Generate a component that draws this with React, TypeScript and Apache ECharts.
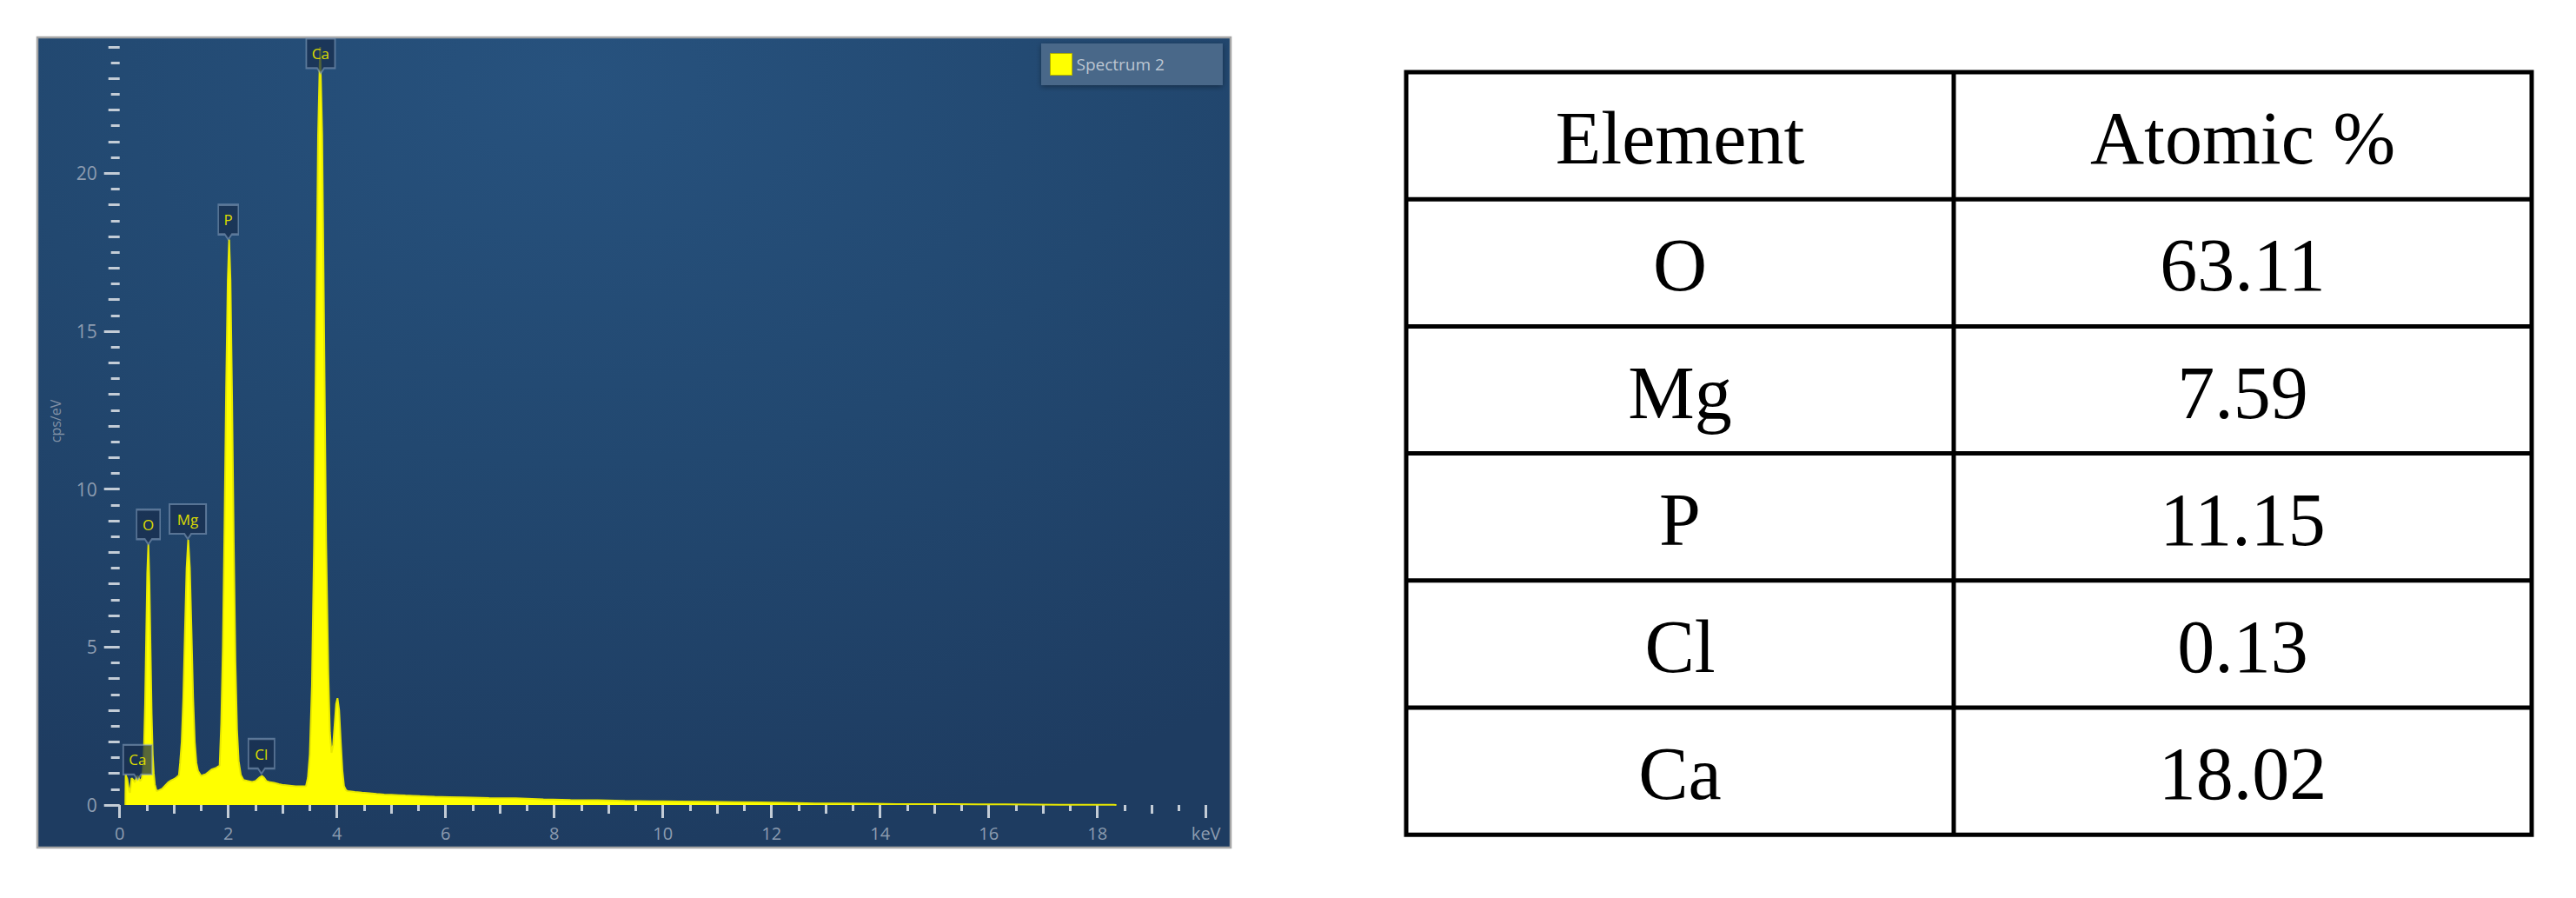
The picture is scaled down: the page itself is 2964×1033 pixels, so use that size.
import React, { useEffect, useRef } from 'react';
import * as echarts from 'echarts';

// ---------- data ----------
// EDS spectrum: [energy keV, counts cps/eV]
const spectrumPoints: [number, number][] = [
  [0.105, 0], [0.11, 0.95], [0.14, 0.82], [0.17, 0.48], [0.19, 0.39], [0.22, 0.85],
  [0.25, 0.8], [0.28, 0.72], [0.31, 0.86], [0.33, 0.92], [0.36, 0.82], [0.38, 0.76],
  [0.408, 0.85], [0.428, 1.1], [0.448, 1.8], [0.468, 3.2], [0.488, 5.3], [0.508, 7.35],
  [0.528, 8.25], [0.548, 7.0], [0.568, 4.95], [0.588, 2.9], [0.608, 1.6], [0.628, 1.0],
  [0.648, 0.65], [0.68, 0.44], [0.73, 0.47], [0.78, 0.51], [0.84, 0.62], [0.89, 0.71],
  [0.95, 0.78], [1.0, 0.82], [1.05, 0.88], [1.09, 0.94], [1.112, 1.33], [1.142, 2.0],
  [1.172, 3.4], [1.202, 5.5], [1.232, 7.5], [1.262, 8.4], [1.292, 7.5], [1.322, 5.5],
  [1.352, 3.4], [1.382, 2.0], [1.412, 1.33], [1.442, 1.08], [1.5, 0.92], [1.54, 0.95],
  [1.58, 0.97], [1.64, 1.05], [1.69, 1.12], [1.77, 1.17], [1.84, 1.25], [1.87, 2.6],
  [1.9, 5.0], [1.93, 8.8], [1.96, 13.2], [1.99, 16.6], [2.015, 17.9], [2.04, 16.6],
  [2.07, 12.8], [2.1, 8.3], [2.13, 4.6], [2.16, 2.4], [2.19, 1.4], [2.23, 0.95],
  [2.28, 0.79], [2.36, 0.76], [2.44, 0.73], [2.5, 0.76], [2.54, 0.82], [2.58, 0.88],
  [2.62, 0.92], [2.66, 0.86], [2.7, 0.76], [2.77, 0.72], [2.84, 0.7], [2.93, 0.66],
  [3.02, 0.63], [3.13, 0.61], [3.24, 0.59], [3.35, 0.59], [3.43, 0.6], [3.465, 0.86],
  [3.5, 1.6], [3.54, 3.8], [3.578, 8.2], [3.615, 14.8], [3.653, 21.2], [3.69, 24.0],
  [3.728, 21.2], [3.765, 14.8], [3.8, 8.4], [3.84, 4.2], [3.87, 2.3], [3.9, 1.65],
  [3.93, 1.9], [3.96, 2.6], [3.985, 3.2], [4.01, 3.38], [4.04, 3.0], [4.07, 2.0],
  [4.1, 1.1], [4.13, 0.6], [4.17, 0.46], [4.2, 0.44], [4.33, 0.41], [4.46, 0.39],
  [4.6, 0.37], [4.73, 0.35], [4.87, 0.33], [5.0, 0.32], [5.13, 0.31], [5.26, 0.3],
  [5.4, 0.29], [5.53, 0.28], [5.67, 0.27], [5.8, 0.26], [6.07, 0.25], [6.33, 0.24],
  [6.8, 0.22], [7.29, 0.21], [7.8, 0.18], [8.3, 0.16], [8.8, 0.15], [9.3, 0.13],
  [9.8, 0.12], [10.3, 0.11], [10.8, 0.1], [11.3, 0.09], [11.8, 0.08], [12.3, 0.07],
  [12.8, 0.05], [13.3, 0.045], [13.8, 0.04], [14.3, 0.03], [14.8, 0.03], [15.3, 0.025],
  [15.8, 0.02], [16.3, 0.02], [16.8, 0.015], [17.3, 0.01], [17.8, 0.01], [18.3, 0.01],
  [18.35, 0],
];

const seriesName = 'Spectrum 2';

// peak markers
const peakNames = ['Ca', 'O', 'Mg', 'P', 'Cl', 'Ca'];
const peakEnergy = [0.33, 0.528, 1.254, 2.0, 2.61, 3.7];
const peakTipCps = [0.8, 8.25, 8.42, 17.9, 0.99, 23.16];

// axis ticks
const xMajorTicks = [0, 2, 4, 6, 8, 10, 12, 14, 16, 18, 20];
const xOddTicks = [1, 3, 5, 7, 9, 11, 13, 15, 17, 19];
const xHalfTicks = [0.5, 1.5, 2.5, 3.5, 4.5, 5.5, 6.5, 7.5, 8.5, 9.5, 10.5, 11.5, 12.5, 13.5, 14.5, 15.5, 16.5, 17.5, 18.5, 19.5];
const yMajorTicks = [0, 5, 10, 15, 20];
const yIntTicks = [1, 2, 3, 4, 6, 7, 8, 9, 11, 12, 13, 14, 16, 17, 18, 19, 21, 22, 23, 24];
const yHalfTicks = [0.5, 1.5, 2.5, 3.5, 4.5, 5.5, 6.5, 7.5, 8.5, 9.5, 10.5, 11.5, 12.5, 13.5, 14.5, 15.5, 16.5, 17.5, 18.5, 19.5, 20.5, 21.5, 22.5, 23.5];
const xUnitLabel = 'keV';
const yAxisName = 'cps/eV';

// table
const tableHeaders = ['Element', 'Atomic %'];
const tableElements = ['O', 'Mg', 'P', 'Cl', 'Ca'];
const tableAtomicPct = ['63.11', '7.59', '11.15', '0.13', '18.02'];

// ---------- layout / style ----------
const W = 2964;
const H = 1033;
const X0 = 137.7; // px of 0 keV
const X_MAX = 20;
const PX_PER_KEV = 62.5;
const Y_MAX = 24.3;
const GRID_TOP = 43;
const GRID_BOTTOM = 107;

const boxWidth: Record<string, number> = { Ca: 33, O: 27, Mg: 42, P: 23, Cl: 30 };
const BOX_H = 34;
const PIN_H = 6;
const pinPath = (w: number, h: number) =>
  `path://M0,0H${w}V${h}H${w / 2 + 4}L${w / 2},${h + PIN_H}L${w / 2 - 4},${h}H0Z`;

const TICK_COLOR = '#c3ccd6';
const LABEL_COLOR = '#8d9cb0';
const UI_FONT = 'Open Sans';

const tbl = { left: 1618, right: 2913, div: 2248, top: 83, rowH: 146.2, line: 5 };

function makeXAxis(ticks: number[], len: number, showLabel: boolean) {
  return {
    type: 'value',
    position: 'bottom',
    min: 0,
    max: X_MAX,
    offset: 4,
    gridIndex: 0,
    axisLine: { show: false },
    splitLine: { show: false },
    axisTick: { show: true, length: len, customValues: ticks, lineStyle: { color: TICK_COLOR, width: 3 } },
    axisLabel: {
      show: showLabel,
      customValues: ticks,
      margin: 18,
      color: LABEL_COLOR,
      fontSize: 20,
      fontFamily: UI_FONT,
      formatter: (v: number) => (v === X_MAX ? xUnitLabel : String(v)),
    },
  };
}

function makeYAxis(ticks: number[], len: number, showLabel: boolean) {
  return {
    type: 'value',
    position: 'left',
    min: 0,
    max: Y_MAX,
    offset: 4,
    gridIndex: 0,
    name: showLabel ? yAxisName : '',
    nameLocation: 'middle',
    nameGap: 62,
    nameTextStyle: { color: '#8292a6', fontSize: 16, fontFamily: UI_FONT },
    axisLine: { show: false },
    splitLine: { show: false },
    axisTick: { show: true, length: len, customValues: ticks, lineStyle: { color: TICK_COLOR, width: 3 } },
    axisLabel: {
      show: showLabel,
      customValues: ticks,
      margin: 22,
      color: LABEL_COLOR,
      fontSize: 21,
      fontFamily: UI_FONT,
    },
  };
}

function buildTableGraphics() {
  const els: any[] = [];
  const nRows = tableElements.length + 1;
  const height = tbl.rowH * nRows;
  els.push({
    type: 'rect',
    shape: { x: tbl.left, y: tbl.top, width: tbl.right - tbl.left, height },
    style: { fill: '#ffffff', stroke: '#000000', lineWidth: tbl.line },
    z: 1,
  });
  for (let i = 1; i < nRows; i++) {
    const y = tbl.top + tbl.rowH * i;
    els.push({
      type: 'line',
      shape: { x1: tbl.left, y1: y, x2: tbl.right, y2: y },
      style: { stroke: '#000000', lineWidth: tbl.line },
      z: 2,
    });
  }
  els.push({
    type: 'line',
    shape: { x1: tbl.div, y1: tbl.top, x2: tbl.div, y2: tbl.top + height },
    style: { stroke: '#000000', lineWidth: tbl.line },
    z: 2,
  });
  const cx1 = (tbl.left + tbl.div) / 2;
  const cx2 = (tbl.div + tbl.right) / 2;
  const rows: string[][] = [tableHeaders, ...tableElements.map((e, i) => [e, tableAtomicPct[i]])];
  rows.forEach((r, i) => {
    const cy = tbl.top + tbl.rowH * (i + 0.5) + 3;
    [cx1, cx2].forEach((cx, j) => {
      els.push({
        type: 'text',
        x: cx,
        y: cy,
        z: 3,
        style: {
          text: r[j],
          align: 'center',
          verticalAlign: 'middle',
          fontSize: 86,
          fontFamily: 'Liberation Serif',
          fill: '#000000',
        },
      });
    });
  });
  return els;
}

export default function App() {
  const ref = useRef<HTMLDivElement>(null);

  useEffect(() => {
    document.body.style.margin = '0';
    document.body.style.overflow = 'hidden';
    if (!ref.current) return;
    const chart = echarts.init(ref.current, undefined, { renderer: 'svg' });

    const gridRight = W - (X0 + X_MAX * PX_PER_KEV);

    const option: any = {
      animation: false,
      backgroundColor: '#ffffff',
      grid: {
        left: X0,
        right: gridRight,
        top: GRID_TOP,
        bottom: GRID_BOTTOM,
        containLabel: false,
        outerBoundsMode: 'none',
      },
      legend: {
        data: [seriesName],
        left: 1198,
        top: 50,
        orient: 'horizontal',
        icon: 'rect',
        itemWidth: 25,
        itemHeight: 25,
        padding: [11, 67, 11, 10],
        backgroundColor: '#4a6889',
        shadowColor: 'rgba(0,0,0,0.35)',
        shadowBlur: 6,
        shadowOffsetY: 2,
        selectedMode: false,
        itemStyle: { color: '#ffff00', borderColor: '#b0b000', borderWidth: 1 },
        textStyle: { color: '#bcc6d2', fontSize: 19, fontFamily: UI_FONT },
      },
      xAxis: [
        makeXAxis(xMajorTicks, 15, true),
        makeXAxis(xOddTicks, 10, false),
        makeXAxis(xHalfTicks, 7, false),
      ],
      yAxis: [
        makeYAxis(yMajorTicks, 18, true),
        makeYAxis(yIntTicks, 13, false),
        makeYAxis(yHalfTicks, 10, false),
      ],
      graphic: [
        {
          type: 'rect',
          z: -10,
          shape: { x: 43, y: 43, width: 1373, height: 932 },
          style: {
            fill: {
              type: 'radial',
              x: 0.45,
              y: 0.05,
              r: 0.95,
              colorStops: [
                { offset: 0, color: '#27527e' },
                { offset: 0.5, color: '#224870' },
                { offset: 1, color: '#1e3c61' },
              ],
            },
            stroke: '#a6a6a6',
            lineWidth: 2.5,
          },
        },
        ...buildTableGraphics(),
      ],
      series: [
        {
          name: seriesName,
          type: 'line',
          xAxisIndex: 0,
          yAxisIndex: 0,
          data: spectrumPoints,
          showSymbol: false,
          symbol: 'none',
          color: '#ffff00',
          lineStyle: { color: '#e8e800', width: 2 },
          areaStyle: { color: '#ffff00', opacity: 1 },
          markPoint: {
            silent: true,
            data: peakNames.map((n, i) => ({
              name: n,
              coord: [peakEnergy[i], peakTipCps[i]],
              symbol: pinPath(boxWidth[n], BOX_H),
              symbolSize: [boxWidth[n], BOX_H + PIN_H],
              symbolOffset: [0, -(BOX_H + PIN_H) / 2],
            })),
            itemStyle: {
              color: 'rgba(24,46,78,0.72)',
              borderColor: 'rgba(140,165,195,0.55)',
              borderWidth: 2,
            },
            label: {
              show: true,
              position: 'inside',
              formatter: '{b}',
              offset: [0, -3],
              color: '#dcdc00',
              fontSize: 17,
              fontFamily: UI_FONT,
            },
          },
        },
      ],
    };

    chart.setOption(option);
    return () => chart.dispose();
  }, []);

  return <div ref={ref} style={{ width: W, height: H }} />;
}
